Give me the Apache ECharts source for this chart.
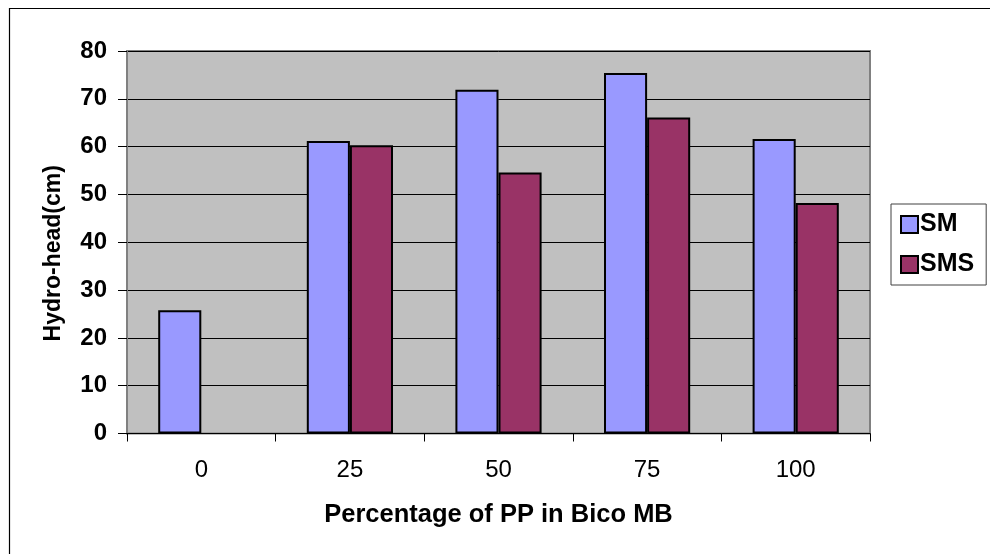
<!DOCTYPE html>
<html>
<head>
<meta charset="utf-8">
<script src="https://cdn.jsdelivr.net/npm/echarts@6/dist/echarts.min.js"></script>
<style>
  html, body { margin: 0; padding: 0; background: #ffffff; }
  #chart { width: 990px; height: 554px; }
</style>
</head>
<body>
<div id="chart"></div>
<script>
// Hydro-head of Bico MB webs against PP content
var categories = ['0', '25', '50', '75', '100'];
var smValues = [25.8, 61.2, 71.9, 75.4, 61.6];
var smsValues = [null, 60.3, 54.6, 66.1, 48.2];
var yTicks = { min: 0, max: 80, step: 10 };

var FONT = 'Arial, "Liberation Sans", sans-serif';

var chart = echarts.init(document.getElementById('chart'), null, { renderer: 'canvas' });

chart.setOption({
  animation: false,
  backgroundColor: '#ffffff',
  textStyle: { fontFamily: FONT, color: '#000' },
  graphic: [{
    type: 'rect',
    shape: { x: 9.5, y: 8.5, width: 1000, height: 600 },
    style: { fill: 'none', stroke: '#000', lineWidth: 1.2 },
    silent: true
  }],
  grid: {
    left: 127, right: 120, top: 51, bottom: 120.5,
    show: true,
    backgroundColor: '#c0c0c0',
    borderColor: '#808080',
    borderWidth: 2
  },
  legend: {
    orient: 'vertical',
    left: 891, top: 204,
    padding: [8, 12, 8, 9],
    itemGap: 15,
    itemWidth: 17, itemHeight: 17,
    icon: 'rect',
    backgroundColor: '#ffffff',
    borderColor: '#404040',
    borderWidth: 1,
    textStyle: { fontFamily: FONT, fontSize: 25, fontWeight: 'bold', color: '#000', padding: [0, 0, 0, -3], lineHeight: 24 },
    data: ['SM', 'SMS']
  },
  xAxis: {
    type: 'category',
    data: categories,
    name: 'Percentage of PP in Bico MB',
    nameLocation: 'middle',
    nameGap: 68,
    nameTextStyle: { fontFamily: FONT, fontSize: 25.5, fontWeight: 'bold', color: '#000' },
    axisLine: { lineStyle: { color: '#000', width: 1 } },
    axisTick: { show: true, length: 8, lineStyle: { color: '#000' } },
    axisLabel: { fontFamily: FONT, fontSize: 24, color: '#000', margin: 25 }
  },
  yAxis: {
    type: 'value',
    min: yTicks.min, max: yTicks.max, interval: yTicks.step,
    name: 'Hydro-head(cm)',
    nameLocation: 'middle',
    nameGap: 62,
    nameTextStyle: { fontFamily: FONT, fontSize: 23, fontWeight: 'bold', color: '#000', padding: [0, 22, 0, 0] },
    axisLine: { show: true, lineStyle: { color: '#808080', width: 2 } },
    axisTick: { show: true, length: 9, lineStyle: { color: '#000' } },
    axisLabel: { fontFamily: FONT, fontSize: 24, fontWeight: 'bold', color: '#000', margin: 20 },
    splitLine: { show: true, lineStyle: { color: '#000', width: 1 } }
  },
  series: [
    {
      name: 'SM', type: 'bar', data: smValues,
      barGap: '0%', barCategoryGap: '42%',
      itemStyle: { color: '#9999ff', borderColor: '#000', borderWidth: 2 }
    },
    {
      name: 'SMS', type: 'bar', data: smsValues,
      itemStyle: { color: '#993366', borderColor: '#000', borderWidth: 2 }
    }
  ]
});
</script>
</body>
</html>
